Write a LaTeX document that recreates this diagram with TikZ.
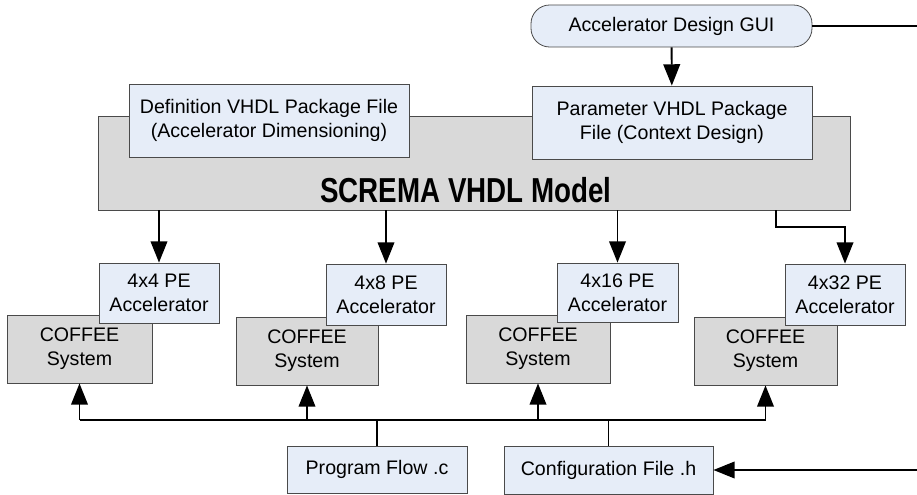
\documentclass[tikz,border=0pt]{standalone}
\usepackage{fontspec}
\setmainfont{Liberation Sans}
\usetikzlibrary{arrows.meta}
\definecolor{boxblue}{HTML}{E6EDF8}
\definecolor{boxgray}{HTML}{D9D9D9}
\definecolor{boxline}{HTML}{4A4A4A}
\begin{document}
\begin{tikzpicture}[x=0.75pt, y=-0.75pt,
    every node/.style={font=\fontsize{14.7pt}{18pt}\selectfont, align=center, inner sep=0pt},
    filebox/.style={draw=boxline, fill=boxblue, line width=0.6pt},
    sysbox/.style={draw=boxline, fill=boxgray, line width=0.6pt},
    arr/.style={line width=1.4pt, -{Triangle[length=16pt, width=12.5pt]}},
    wire/.style={line width=1.4pt}]
  \useasboundingbox (0,0) rectangle (917,495); %
  % model with its two package files
  \node[sysbox, minimum width=564pt, minimum height=70.5pt] (screma) at (474,163) {}; %
  \node[anchor=base, font=\fontsize{26pt}{30pt}\selectfont] (title) at (466,203)
    {\scalebox{0.8}[1]{\bfseries SCREMA VHDL Model}}; %
  \node[filebox, minimum width=210pt, minimum height=54.75pt] (defn) at (269,120.5)
    {Definition VHDL Package File\\(Accelerator Dimensioning)}; %
  \node[filebox, minimum width=210pt, minimum height=54.75pt] (param) at (672,122.5)
    {Parameter VHDL Package\\File (Context Design)}; %
  \node[filebox, rounded corners=14pt, minimum width=210.75pt, minimum height=31.5pt] (gui) at (671.5,26)
    {Accelerator Design GUI}; %
  \coordinate (guiout) at (917,26); %
  \draw[wire] (gui.east) -- (guiout); %
  \draw[arr] (gui) -- (param); %
  % COFFEE systems and accelerators
  \node[sysbox, minimum width=108.75pt, minimum height=51pt] (cof4) at (79.5,349) {COFFEE\\System}; %
  \node[sysbox, minimum width=106.5pt, minimum height=51pt] (cof8) at (307,351) {COFFEE\\System}; %
  \node[sysbox, minimum width=108pt, minimum height=51pt] (cof16) at (538,349) {COFFEE\\System}; %
  \node[sysbox, minimum width=107.25pt, minimum height=51pt] (cof32) at (765.5,351) {COFFEE\\System}; %
  \node[filebox, minimum width=90pt, minimum height=45pt] (acc4) at (159,293) {4x4 PE\\Accelerator}; %
  \node[filebox, minimum width=90pt, minimum height=45.75pt] (acc8) at (386,294.5) {4x8 PE\\Accelerator}; %
  \node[filebox, minimum width=90.75pt, minimum height=44.25pt] (acc16) at (617.5,292.5) {4x16 PE\\Accelerator}; %
  \node[filebox, minimum width=90pt, minimum height=45.75pt] (acc32) at (845,294.5) {4x32 PE\\Accelerator}; %
  \draw[arr] (acc4.north |- screma.south) -- (acc4.north); %
  \draw[arr] (acc8.north |- screma.south) -- (acc8.north); %
  \draw[arr] (acc16.north |- screma.south) -- (acc16.north); %
  \coordinate (tap) at (776,0); %
  \draw[arr] (screma.south -| tap) -- ++(0,17) -| (acc32.north); %
  % program sources
  \node[filebox, minimum width=135pt, minimum height=35.25pt] (prog) at (377,469.5) {Program Flow .c}; %
  \node[filebox, minimum width=156.75pt, minimum height=36pt] (conf) at (608.5,470) {Configuration File .h}; %
  \coordinate (bus) at (0,420); %
  \coordinate (confin) at (917,470); %
  \draw[wire] (cof4.south |- bus) -- (cof32.south |- bus); %
  \draw[wire] (prog.north) -- (prog.north |- bus); %
  \draw[wire] (conf.north) -- (conf.north |- bus); %
  \foreach \c in {cof4, cof8, cof16, cof32}
    \draw[arr] (\c.south |- bus) -- (\c.south); %
  \draw[arr] (confin) -- (conf.east); %
\end{tikzpicture}
\end{document}
